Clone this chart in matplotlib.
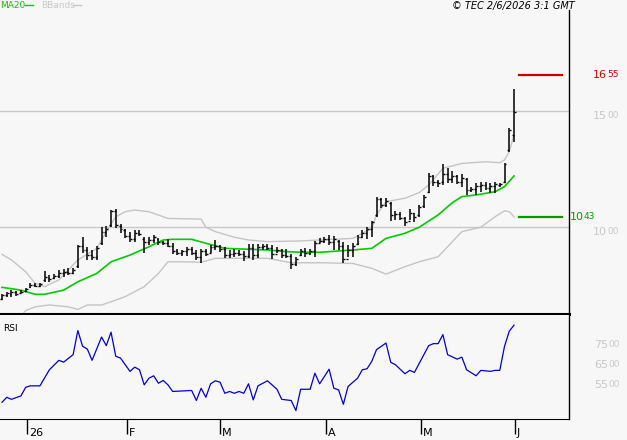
import numpy as np
import matplotlib.pyplot as plt
from matplotlib.lines import Line2D
import matplotlib.transforms as mtransforms

W, H = 627, 440

# daily OHLC bars, oldest first
highs = [7.11, 7.21, 7.28, 7.26, 7.28, 7.39, 7.57, 7.60, 7.60, 8.10,
         7.93, 7.97, 8.15, 8.18, 8.22, 8.22, 9.22, 9.56, 9.15, 9.01,
         9.18, 10.01, 10.04, 10.73, 10.76, 10.13, 9.90, 9.80, 9.87, 9.87,
         9.58, 9.56, 9.66, 9.54, 9.41, 9.47, 9.30, 9.04, 9.01, 9.15,
         9.15, 9.01, 9.04, 9.04, 9.22, 9.44, 9.22, 9.15, 9.01, 9.04,
         9.01, 8.97, 9.27, 9.27, 9.25, 9.27, 9.27, 9.22, 9.15, 9.04,
         9.04, 8.84, 8.72, 9.05, 9.08, 9.04, 9.41, 9.51, 9.58, 9.66,
         9.61, 9.44, 9.37, 9.22, 9.30, 9.66, 9.87, 9.99, 10.27, 11.28,
         11.26, 11.24, 11.09, 10.69, 10.63, 10.44, 10.78, 10.62, 10.95, 11.38,
         12.34, 12.24, 12.03, 12.72, 12.53, 12.43, 12.24, 12.28, 12.10, 11.74,
         11.88, 11.95, 11.95, 11.88, 11.95, 11.88, 12.76, 14.27, 15.95]
lows = [6.85, 7.00, 7.00, 7.04, 7.14, 7.21, 7.36, 7.40, 7.43, 7.64,
        7.64, 7.74, 7.82, 7.86, 7.93, 7.97, 8.22, 8.86, 8.58, 8.58,
        8.58, 9.22, 9.58, 10.01, 9.94, 9.73, 9.51, 9.37, 9.37, 9.61,
        8.89, 9.22, 9.30, 9.22, 9.22, 9.15, 8.84, 8.79, 8.75, 8.75,
        8.79, 8.58, 8.46, 8.75, 8.86, 9.01, 8.94, 8.65, 8.65, 8.72,
        8.75, 8.55, 8.65, 8.58, 8.65, 9.01, 9.01, 8.61, 8.86, 8.65,
        8.65, 8.18, 8.32, 8.75, 8.72, 8.79, 8.72, 9.30, 9.30, 9.22,
        9.01, 9.01, 8.43, 8.72, 8.72, 9.22, 9.51, 9.47, 9.56, 10.44,
        10.80, 10.88, 10.27, 10.30, 10.30, 10.04, 10.30, 10.23, 10.44, 10.80,
        11.45, 11.77, 11.71, 11.81, 11.88, 11.88, 11.84, 11.74, 11.38, 11.52,
        11.38, 11.52, 11.59, 11.48, 11.45, 11.74, 11.90, 13.23, 13.66]
opens = [6.90, 7.05, 7.10, 7.20, 7.15, 7.25, 7.40, 7.50, 7.45, 7.70,
         7.80, 7.80, 7.90, 8.00, 8.05, 8.00, 8.30, 9.20, 9.00, 8.80,
         8.70, 9.30, 9.80, 10.10, 10.70, 10.05, 9.85, 9.60, 9.50, 9.75,
         9.50, 9.35, 9.45, 9.50, 9.35, 9.30, 9.20, 8.95, 8.90, 8.95,
         9.05, 8.90, 8.70, 8.95, 8.90, 9.15, 9.20, 9.05, 8.80, 8.85,
         8.90, 8.85, 8.75, 9.10, 8.80, 9.15, 9.20, 9.10, 8.85, 9.00,
         8.80, 8.75, 8.40, 8.80, 8.95, 8.90, 8.95, 9.30, 9.40, 9.50,
         9.35, 9.40, 9.20, 8.60, 9.00, 9.25, 9.55, 9.75, 9.90, 10.50,
         11.20, 10.95, 11.05, 10.50, 10.55, 10.40, 10.25, 10.60, 10.50, 10.90,
         11.50, 12.20, 11.95, 11.95, 12.30, 12.05, 12.20, 11.95, 12.05, 11.60,
         11.65, 11.75, 11.80, 11.70, 11.75, 11.80, 11.95, 13.30, 13.97]
closes = [7.05, 7.15, 7.20, 7.10, 7.22, 7.35, 7.50, 7.45, 7.55, 7.85,
          7.75, 7.90, 8.00, 8.05, 8.00, 8.15, 9.20, 9.00, 8.80, 8.70,
          9.10, 9.80, 9.90, 10.70, 10.10, 9.90, 9.60, 9.50, 9.75, 9.70,
          9.35, 9.45, 9.55, 9.35, 9.30, 9.20, 8.95, 8.90, 8.95, 9.05,
          8.90, 8.70, 8.95, 8.85, 9.15, 9.20, 9.05, 8.80, 8.85, 8.90,
          8.85, 8.75, 9.10, 8.80, 9.15, 9.20, 9.10, 8.85, 9.00, 8.80,
          8.75, 8.40, 8.60, 8.95, 8.90, 8.95, 9.30, 9.40, 9.50, 9.35,
          9.50, 9.20, 8.60, 9.00, 9.20, 9.55, 9.75, 9.90, 10.20, 11.20,
          10.95, 11.10, 10.50, 10.55, 10.40, 10.20, 10.60, 10.45, 10.85, 11.30,
          12.20, 11.95, 11.90, 12.30, 12.05, 12.20, 11.95, 12.10, 11.60, 11.65,
          11.75, 11.80, 11.70, 11.75, 11.85, 11.85, 12.70, 14.20, 14.94]

# indicator readings (bar index, value)
ma20_idx = [0, 4, 7, 9, 13, 16, 20, 23, 27, 31, 34, 36, 40, 43, 47, 52, 56, 60,
            63, 67, 74, 78, 81, 85, 88, 92, 95, 97, 100, 104, 106, 108]
ma20_val = [7.40, 7.28, 7.10, 7.10, 7.28, 7.64, 8.00, 8.50, 8.79, 9.15, 9.44, 9.47,
            9.47, 9.30, 9.08, 9.04, 9.01, 8.94, 8.91, 8.91, 9.01, 9.08, 9.51, 9.73,
            9.99, 10.52, 11.05, 11.31, 11.38, 11.52, 11.74, 12.20]
upper_idx = [0, 2, 5, 7, 9, 12, 14, 16, 20, 22, 24, 26, 28, 31, 35, 42, 43, 45, 49,
             52, 56, 63, 67, 74, 78, 79, 81, 85, 88, 90, 93, 97, 102, 105, 106, 107, 108]
upper_val = [8.82, 8.58, 8.07, 7.57, 7.43, 7.72, 8.15, 8.58, 9.08, 9.80, 10.44, 10.66,
             10.73, 10.66, 10.37, 10.34, 9.99, 9.80, 9.56, 9.44, 9.37, 9.40, 9.44, 9.51,
             9.94, 10.52, 11.09, 11.24, 11.48, 11.81, 12.53, 12.74, 12.81, 12.77, 12.89,
             13.25, 13.97]
lower_idx = [4, 5, 7, 10, 14, 16, 18, 21, 23, 26, 30, 33, 35, 39, 42, 45, 49, 56, 61,
             67, 74, 78, 81, 85, 88, 92, 94, 97, 101, 104, 106, 107, 108]
lower_val = [6.15, 6.40, 6.56, 6.64, 6.56, 6.45, 6.64, 6.64, 6.78, 7.00, 7.43, 8.00,
             8.50, 8.50, 8.48, 8.65, 8.65, 8.65, 8.46, 8.46, 8.43, 8.22, 7.97, 8.29,
             8.50, 8.72, 9.15, 9.80, 9.99, 10.44, 10.70, 10.66, 10.44]
rsi_idx = [0, 1, 2, 4, 5, 6, 8, 10, 12, 13, 15, 16, 17, 18, 19, 21, 22, 23, 24, 25,
           27, 28, 29, 30, 31, 32, 33, 34, 35, 36, 40, 41, 42, 43, 44, 45, 46, 47, 48,
           49, 50, 51, 52, 53, 54, 56, 58, 59, 61, 62, 63, 65, 66, 67, 69, 70, 71, 72,
           73, 75, 76, 77, 78, 79, 81, 82, 83, 85, 86, 87, 90, 91, 92, 93, 94, 96, 97,
           98, 100, 101, 103, 104, 105, 106, 107, 108]
rsi_val = [46.3, 48.8, 47.8, 49.5, 53.8, 54.5, 54.5, 62.5, 67.2, 66.3, 70.0, 82.0,
           74.2, 72.8, 67.2, 78.8, 74.5, 81.2, 69.2, 68.3, 61.7, 63.8, 62.5, 55.0,
           58.3, 59.5, 55.8, 57.2, 55.0, 51.7, 52.2, 47.2, 53.3, 48.8, 55.5, 57.0,
           56.3, 50.8, 51.7, 50.8, 51.7, 50.8, 55.5, 47.5, 54.5, 57.0, 52.8, 47.8,
           47.2, 42.2, 52.8, 52.8, 60.8, 55.5, 62.8, 53.3, 52.5, 45.3, 54.2, 58.3,
           62.5, 63.0, 66.7, 72.5, 75.8, 66.2, 65.0, 60.5, 62.2, 61.2, 74.5, 75.5,
           75.5, 80.0, 70.0, 67.8, 68.8, 62.5, 59.5, 62.2, 61.7, 62.2, 62.2, 74.2,
           81.7, 84.7]

month_pos = [5.3, 26.4, 46.0, 68.4, 88.4, 108.2]
month_labels = ['26', 'F', 'M', 'A', 'M', 'J']
price_ticks = [(10, '10', '00'), (15, '15', '00')]
rsi_ticks = [(75, '75', '00'), (65, '65', '00'), (55, '55', '00')]
resistance = (16.55, '16', '55')
support = (10.43, '10', '43')

BG = '#f7f7f7'
LIGHT = '#c8c8c8'
RED = '#cc0000'
GREEN = '#009900'
MAGREEN = '#00cc00'

fig = plt.figure(figsize=(W / 100, H / 100), dpi=100, facecolor=BG)
ax = fig.add_axes([0, 1 - 314.5 / H, 569 / W, 304.5 / H], facecolor=BG)
rx = fig.add_axes([0, 1 - 419 / H, 569 / W, 104.5 / H], facecolor=BG)

n = len(highs)
x = np.arange(n)
for a in (ax, rx):
    a.set_xlim(-0.42, 119.6)
    a.set_yticks([])
    a.spines['left'].set_visible(False)
    a.spines['top'].set_visible(False)
    a.spines['right'].set_linewidth(1.0)

ax.set_ylim(6.23, 19.35)
ax.set_xticks([])
ax.spines['bottom'].set_linewidth(2.2)

for level, _, _ in price_ticks:
    ax.axhline(level, color=LIGHT, lw=1, zorder=1)

ax.plot(upper_idx, upper_val, color='#c4c4c4', lw=1, zorder=2)
ax.plot(lower_idx, lower_val, color='#c4c4c4', lw=1, zorder=2)
ax.plot(ma20_idx, ma20_val, color=MAGREEN, lw=1.2, zorder=3)

ax.vlines(x, lows, highs, color='k', lw=1.1, zorder=4)
ax.hlines(opens, x - 0.4, x, color='k', lw=1, zorder=4)
ax.hlines(closes, x, x + 0.4, color='k', lw=1, zorder=4)

ax.axhline(resistance[0], xmin=519 / 569, xmax=562 / 569, color=RED, lw=1.6)
ax.axhline(support[0], xmin=519 / 569, xmax=562 / 569, color=GREEN, lw=1.6)


def split_label(axis, xpos, value, big, small, color, va):
    t = axis.text(xpos, value, big, transform=axis.get_yaxis_transform(),
                  color=color, fontsize=8, va=va, ha='left', clip_on=False)
    axis.annotate(small, xy=(1, 1), xycoords=t, va='top', ha='left',
                  fontsize=6.5, color=color, annotation_clip=False)


for level, big, small in price_ticks:
    split_label(ax, 593 / 569, level, big, small, LIGHT, 'top')
split_label(ax, 593 / 569, resistance[0], resistance[1], resistance[2], RED, 'center')
split_label(ax, 570 / 569, support[0], support[1], support[2], GREEN, 'center')

# RSI panel
rx.set_ylim(38, 90)
rx.plot(rsi_idx, rsi_val, color='#0000dd', lw=0.9)
rx.text(0.005, 0.87, 'RSI', transform=rx.transAxes, fontsize=6.5, va='center')
for level, big, small in rsi_ticks:
    split_label(rx, 594 / 569, level, big, small, LIGHT, 'center')

rx.set_xticks(month_pos)
rx.tick_params(axis='x', length=11, width=1, direction='out', labelbottom=False)
tr = mtransforms.blended_transform_factory(rx.transData, rx.transAxes)
for pos, lab in zip(month_pos, month_labels):
    rx.text(pos + 0.35, -0.085, lab, transform=tr, fontsize=8, va='top', ha='left')

# header
fig.text(0, 1 - 5.5 / H, 'MA20', color=MAGREEN, fontsize=6.5, va='center')
fig.add_artist(Line2D([25 / W, 33 / W], [1 - 5.5 / H] * 2, color=MAGREEN, lw=1))
fig.text(41 / W, 1 - 5.5 / H, 'BBands', color=LIGHT, fontsize=6.5, va='center')
fig.add_artist(Line2D([73 / W, 81 / W], [1 - 5.5 / H] * 2, color=LIGHT, lw=1))
fig.text(575 / W, 1 - 5.5 / H, '\u00a9 TEC 2/6/2026 3:1 GMT', fontsize=7,
         style='italic', ha='right', va='center')

fig.savefig('out.png', dpi=100, facecolor=BG)
